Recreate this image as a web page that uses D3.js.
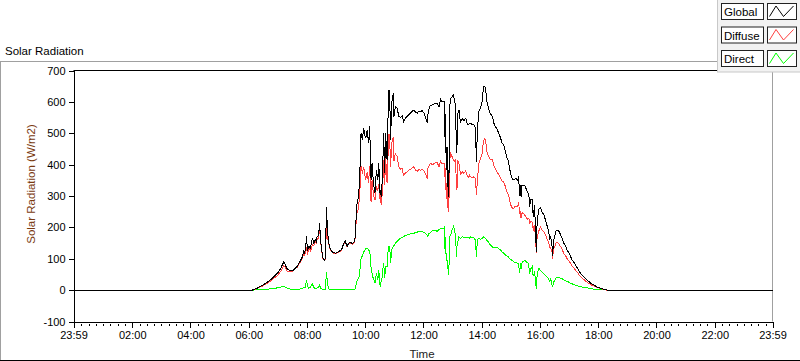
<!DOCTYPE html>
<html><head><meta charset="utf-8">
<script src="https://cdn.jsdelivr.net/npm/d3@7"></script>
<style>
html,body{margin:0;padding:0;background:#fff;}
svg{display:block;font-family:"Liberation Sans",Arial,sans-serif;}
</style></head>
<body><svg id="chart" width="800" height="361"></svg>
<script>
// ---- data (time in minutes from midnight, W/m2) ----
const times = [-1,367,377,388,398,405,412,418,422,426,429,432,434,436,439,443,446,449,453,456,460,463,467,470,473,475,477,479,481,484,487,489,491,494,497,499,501,504,506,508,511,513,516,518,519,520,522,524,525,528,531,534,539,543,546,549,552,556,559,561,563,566,570,573,576,578,580,582,585,587,589,590,592,594,597,599,601,604,607,609,611,612,614,616,618,620,623,626,628,630,631,633,635,636,638,640,642,645,647,649,651,652,654,655,658,659,662,666,669,673,676,679,683,686,690,693,697,700,704,707,710,714,717,721,724,726,728,729,731,734,738,741,745,748,752,755,758,762,763,764,765,767,768,769,770,771,772,773,774,776,779,782,784,786,788,789,791,793,796,800,803,807,810,813,815,817,820,824,827,829,831,834,837,841,843,844,846,848,850,853,857,862,865,868,872,875,879,882,885,889,891,894,896,898,901,903,905,908,910,914,916,918,920,921,923,927,930,932,935,937,939,940,942,944,945,946,947,949,951,953,954,956,958,961,964,968,971,975,978,980,982,985,986,988,990,992,995,999,1002,1006,1009,1013,1016,1020,1023,1026,1030,1033,1037,1040,1043,1047,1050,1054,1057,1061,1064,1068,1071,1078,1085,1092,1098,1439];
const globalRad = [0,0,6,15,25,33,43,52,60,70,80,89,85,78,68,64,62,61,65,70,76,85,95,105,123,118,130,171,125,140,135,148,166,150,160,155,171,175,213,160,120,102,96,100,180,266,200,160,150,130,124,120,118,121,124,126,132,150,157,145,140,150,152,148,153,155,181,266,288,319,360,490,500,480,516,495,484,510,468,522,420,350,404,360,330,309,383,351,404,309,320,298,350,393,500,372,500,415,553,638,575,479,560,601,627,551,585,580,553,551,556,537,548,553,560,564,570,574,566,564,570,569,572,564,553,540,532,560,575,588,590,593,596,595,585,608,600,603,600,489,560,383,457,330,457,319,298,420,585,611,617,622,600,590,436,457,564,575,535,548,540,548,530,527,532,532,527,527,516,410,510,569,580,601,638,648,650,643,606,585,564,553,532,522,512,500,484,468,463,441,425,415,400,383,362,356,351,354,356,351,362,300,335,298,335,335,330,320,312,304,266,285,290,290,265,234,245,270,170,123,215,240,260,262,250,240,225,203,188,160,172,137,110,160,165,185,192,187,178,165,150,139,128,117,107,97,88,80,71,62,55,48,43,37,32,27,23,19,16,10,6,3,0,0];
const diffuseRad = [0,0,5,13,22,29,38,45,52,60,69,78,75,69,61,60,59,59,63,68,73,82,91,100,115,110,120,138,113,134,125,132,145,142,155,150,163,165,197,154,117,100,94,97,150,207,175,154,146,128,122,118,116,119,122,124,130,148,155,143,138,148,150,146,151,152,177,240,253,279,300,398,395,372,393,370,352,376,340,397,320,280,350,320,297,287,329,318,339,290,305,270,310,330,414,334,425,340,430,499,452,393,442,470,488,410,435,425,393,385,388,366,374,377,382,385,390,393,382,379,384,382,386,380,372,362,358,389,395,405,400,402,406,408,392,412,402,405,400,360,390,290,340,262,362,265,250,320,415,436,425,415,410,415,330,320,410,405,370,377,372,380,364,360,366,362,359,361,356,303,350,403,418,436,470,477,482,478,446,430,418,416,398,386,376,368,356,346,345,329,315,308,297,283,266,262,260,265,268,265,280,246,250,230,247,242,236,230,225,229,215,217,220,215,215,188,200,208,150,118,168,180,190,200,192,187,178,161,151,135,135,122,100,135,135,148,152,147,140,129,117,109,100,92,85,77,70,64,57,50,44,38,34,29,25,21,18,15,13,8,5,2,0,0];
const directRad = [0,0,1,2,3,4,5,7,8,10,11,11,10,9,7,4,3,2,2,2,3,3,4,5,8,8,10,33,12,6,10,16,21,8,5,5,8,10,16,6,3,2,2,3,30,59,25,6,4,2,2,2,2,2,2,2,2,2,2,2,2,2,2,2,2,3,4,26,35,40,60,92,105,108,123,125,132,134,128,125,100,70,54,40,33,22,54,33,65,19,15,28,40,63,86,38,75,75,123,139,123,86,118,131,139,141,150,155,160,166,168,171,174,176,178,179,180,181,184,185,186,187,186,184,181,178,174,171,180,183,190,191,190,187,193,196,198,198,200,130,170,93,117,68,95,54,48,100,170,175,192,203,190,175,107,139,155,170,165,171,168,168,166,167,166,170,168,166,160,107,160,166,162,165,168,171,168,165,160,155,146,137,134,136,136,132,128,122,118,112,110,107,103,100,96,94,91,89,88,86,82,54,85,68,88,93,94,90,87,75,51,68,70,75,50,46,45,62,20,5,47,60,70,62,58,53,47,42,37,25,37,15,10,25,30,37,40,40,38,36,33,30,28,25,22,20,18,16,14,12,11,10,9,8,7,6,5,4,3,2,1,1,0,0];
const seriesNames = ["Global","Diffuse","Direct"];
const seriesColors = ["#000000","#ff4040","#00ff00"];
const yTicks = [-100,0,100,200,300,400,500,600,700];
const xTickMinutes = [-1,120,240,360,480,600,720,840,960,1080,1200,1320,1439];
const xTickLabels = ["23:59","02:00","04:00","06:00","08:00","10:00","12:00","14:00","16:00","18:00","20:00","22:00","23:59"];

// ---- drawing ----
const svg = d3.select("#chart");
const L = 73.5, R = 772.5, T = 70.5, B = 321.5;
const x = d3.scaleLinear().domain([-1,1439]).range([L,R]);
const y = d3.scaleLinear().domain([-100,700]).range([B,T]);

// outer frame
svg.append("line").attr("x1",0).attr("x2",718).attr("y1",61.5).attr("y2",61.5).attr("stroke","#a0a0a0");
svg.append("line").attr("x1",0.5).attr("x2",0.5).attr("y1",61).attr("y2",361).attr("stroke","#a0a0a0");
svg.append("line").attr("x1",0).attr("x2",800).attr("y1",360.5).attr("y2",360.5).attr("stroke","#000");

svg.append("text").attr("x",5).attr("y",55).attr("font-size",11.5).attr("fill","#000").text("Solar Radiation");

// plot frame
svg.append("line").attr("x1",L).attr("x2",R).attr("y1",T).attr("y2",T).attr("stroke","#000");
svg.append("line").attr("x1",R).attr("x2",R).attr("y1",T).attr("y2",B).attr("stroke","#a0a0a0");

// lines
const rows = times.map((t,i)=>({t, v:[globalRad[i],diffuseRad[i],directRad[i]]}));
[2,1,0].forEach(k=>{
  const line = d3.line().x(d=>x(d.t)).y(d=>y(d.v[k]));
  svg.append("path").datum(rows).attr("d",line).attr("fill","none")
    .attr("stroke",seriesColors[k]).attr("stroke-width",1)
    .attr("shape-rendering","crispEdges");
});

// y axis
const yAxis = d3.axisLeft(y).tickValues(yTicks).tickSize(5).tickSizeOuter(0).tickPadding(3)
  .tickFormat(d=>String(d));
const gy = svg.append("g").attr("transform",`translate(${L},0)`).call(yAxis);
gy.selectAll("text").attr("font-size",11).attr("fill","#000").attr("font-family","'Liberation Sans',Arial,sans-serif");
gy.selectAll("line,path").attr("stroke","#000").attr("shape-rendering","crispEdges");

// x axis minor
const minor = d3.range(15,1440,15).filter(m=>m%120!==0);
const xMinor = d3.axisBottom(x).tickValues(minor).tickSize(4).tickSizeOuter(0).tickFormat("");
const gxm = svg.append("g").attr("transform",`translate(0,${B})`).call(xMinor);
gxm.select("path").remove();
gxm.selectAll("line").attr("stroke","#000").attr("y1",2).attr("shape-rendering","crispEdges");

// x axis major
const xAxis = d3.axisBottom(x).tickValues(xTickMinutes).tickSize(6).tickSizeOuter(0).tickPadding(4)
  .tickFormat((d,i)=>xTickLabels[i]);
const gx = svg.append("g").attr("transform",`translate(0,${B})`).call(xAxis);
gx.selectAll("text").attr("font-size",11).attr("fill","#000").attr("font-family","'Liberation Sans',Arial,sans-serif");
gx.selectAll("line,path").attr("stroke","#000").attr("shape-rendering","crispEdges");

// axis titles
svg.append("text").attr("transform","translate(35,184) rotate(-90)").attr("text-anchor","middle")
  .attr("font-size",11.5).attr("fill","#7a3a10").text("Solar Radiation (W/m2)");
svg.append("text").attr("x",422).attr("y",358).attr("text-anchor","middle")
  .attr("font-size",11.5).attr("fill","#222").text("Time");

// legend
const lg = svg.append("g");
lg.append("rect").attr("x",717.5).attr("y",-1).attr("width",83).attr("height",73)
  .attr("fill","#f2f2f2").attr("stroke","#c8c8c8");
seriesNames.forEach((name,i)=>{
  const yy = 3.5 + i*23.5;
  lg.append("rect").attr("x",721.5).attr("y",yy).attr("width",42).attr("height",16)
    .attr("fill","#fff").attr("stroke","#222");
  lg.append("text").attr("x",724).attr("y",yy+12.5).attr("font-size",11.5).attr("fill","#000").text(name);
  lg.append("rect").attr("x",767.5).attr("y",yy).attr("width",29).attr("height",16)
    .attr("fill","#fff").attr("stroke","#222");
  const pts = [[2,13],[8.5,2.5],[16,13],[26,2.5]].map(p=>[767.5+p[0], yy+p[1]]);
  lg.append("path").attr("d",d3.line()(pts)).attr("fill","none")
    .attr("stroke",seriesColors[i]).attr("stroke-width",1);
});
</script></body></html>
